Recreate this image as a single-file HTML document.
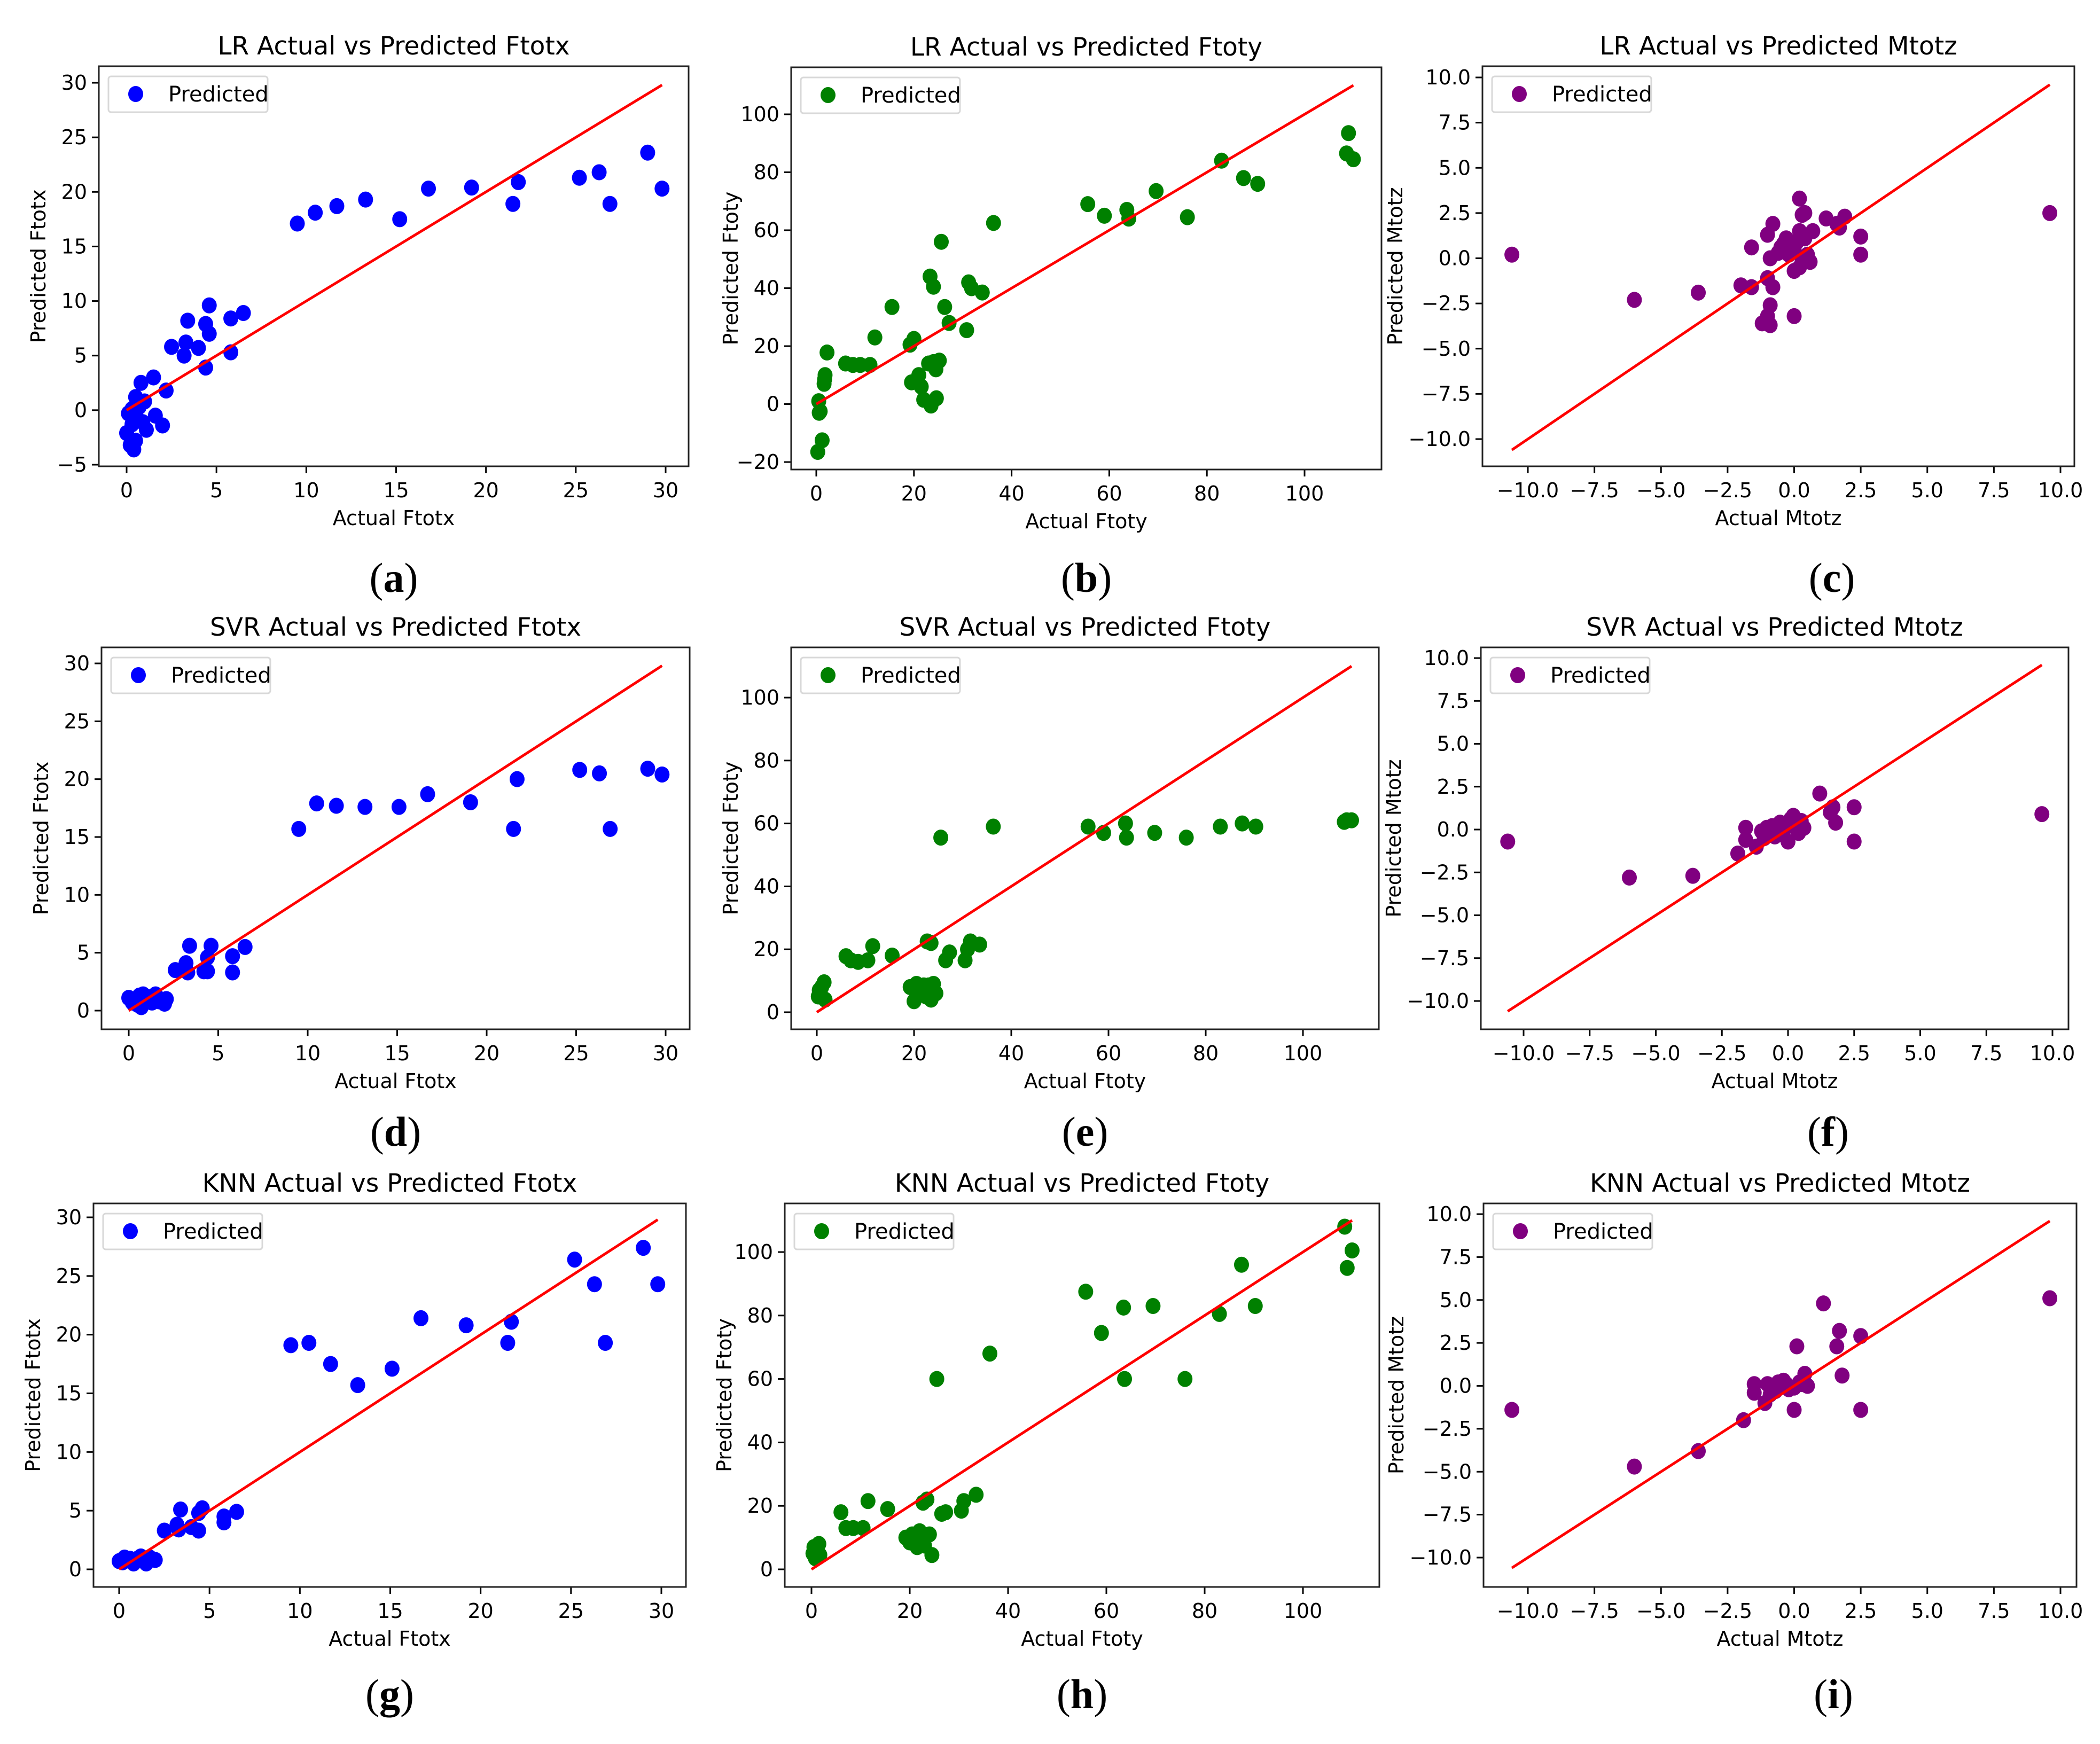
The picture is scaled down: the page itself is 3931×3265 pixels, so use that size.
<!DOCTYPE html>
<html><head><meta charset="utf-8"><style>
html,body{margin:0;padding:0;background:#fff;}
svg{display:block;font-family:"DejaVu Sans","Liberation Sans",sans-serif;}
</style></head><body>
<svg id="fig" width="3931" height="3265" viewBox="0 0 3931 3265" xmlns="http://www.w3.org/2000/svg"></svg>
<script>
// ---- data (actual, predicted) ----
const lrFtotxActual=[9.5,10.5,11.7,13.3,15.2,16.8,19.2,21.5,21.8,25.2,26.3,26.9,29,29.8,4.6,3.4,4.4,5.8,6.5,4.6,2.5,3.3,3.2,4,5.8,4.4,1.5,0.8,2.2,0.5,1,0.3,0.7,1.6,2,1.1,0,0.5,0.2,0.4,0.3,0.6,0.1,0.9];
const lrFtotxPred=[17.1,18.1,18.7,19.3,17.5,20.3,20.4,18.9,20.9,21.3,21.8,18.9,23.6,20.3,9.6,8.2,7.9,8.4,8.9,7.0,5.8,6.2,5.0,5.7,5.3,3.9,3.0,2.5,1.8,1.2,0.8,0.1,0.3,-0.5,-1.4,-1.8,-2.1,-2.8,-3.2,-3.6,-1.3,-0.8,-0.3,-1.1];
const lrFtotyActual=[0.3,1.2,0.6,0.8,0.5,1.6,1.7,1.8,2.2,6,7.5,9,11,12,15.5,19.2,20,19.5,21,21.5,22,23,24,24.5,23.5,24.6,25.2,23.3,24,25.6,26.3,27.2,30.8,31.2,31.8,34,36.3,55.6,59,63.6,64,69.6,76,83,87.5,90.4,108.6,109,110];
const lrFtotyPred=[-16.5,-12.5,-3,-2.5,1,7,8.5,10,17.8,14,13.5,13.5,13.5,23,33.5,20.5,22.5,7.5,10,6,1.5,14,14.5,12,-0.5,2,15,44,40.5,56,33.5,28,25.5,42,40,38.5,62.5,69,65,67,64,73.5,64.5,84,78,76,86.5,93.5,84.5];
const lrMtotzActual=[-10.6,-6,-3.6,9.6,-2,-1.6,-1.6,-1.2,-1,-0.9,-0.9,-1,-0.8,-0.9,-0.6,-0.5,-0.3,-0.8,-1,-0.2,0,0.2,0,0.1,0.2,0.3,0.2,0.4,0.4,0.5,0.6,0.7,1.2,1.6,1.7,1.9,2.5,2.5,-0.4,0,0.3];
const lrMtotzPred=[0.2,-2.3,-1.9,2.5,-1.5,-1.6,0.6,-3.6,-3.2,-3.7,-2.6,-1.1,-1.6,0,0.3,0.6,1.1,1.9,1.3,0.2,-0.7,-0.5,-3.2,0.9,1.5,2.4,3.3,2.5,1.1,0.2,-0.2,1.5,2.2,1.9,1.7,2.3,1.2,0.2,0.8,0.5,-0.1];
const svrFtotxActual=[9.5,10.5,11.6,13.2,15.1,16.7,19.1,21.5,21.7,25.2,26.3,26.9,29,29.8,3.4,4.6,4.4,5.8,6.5,3.2,2.6,3.3,4.2,4.4,5.8,0,0.3,0.6,0.8,1,0.5,0.7,1.5,1.3,2,2.1,1.7,0.2];
const svrFtotxPred=[15.7,17.9,17.7,17.6,17.6,18.7,18,15.7,20,20.8,20.5,15.7,20.9,20.4,5.6,5.6,4.6,4.7,5.5,4.1,3.5,3.3,3.4,3.4,3.3,1.1,0.9,1.3,1.4,1.2,0.5,0.3,1.4,0.7,0.6,1,0.8,0.7];
const svrFtotyActual=[0.3,0.5,0.8,1,1.5,1.7,6,7,8.5,10.5,11.5,15.5,19.2,20,20.5,21.5,22,22.5,23,23.5,24,24.5,22.7,23.5,25.5,26.5,27.3,30.5,31,31.6,33.5,36.3,55.8,59,63.5,63.7,69.5,76,83,87.5,90.3,108.5,109,110];
const svrFtotyPred=[5,7,5.5,8,9.5,4,17.8,16.5,16,16.5,21,18,8,3.5,9,6,8.5,5,8.5,4,9,6,22.5,22,55.5,16.5,19,16.5,20,22.5,21.5,59,59,57,60,55.5,57,55.5,59,60,59,60.5,61,61];
const svrMtotzActual=[-10.6,-6,-3.6,9.6,-1.9,-1.6,-1.6,-1.2,-1,-0.9,-0.6,-0.4,-0.3,-0.2,0,0.1,0.2,0.3,0.4,0.5,0.6,-0.8,1.2,1.6,1.7,1.8,2.5,2.5,-0.5,0];
const svrMtotzPred=[-0.7,-2.8,-2.7,0.9,-1.4,0.1,-0.6,-1,-0.1,-0.5,0.2,0,0.4,-0.3,-0.7,0.6,0.8,0.3,-0.2,0.5,0.1,0.1,2.1,1,1.3,0.4,1.3,-0.7,-0.4,0.2];
const knnFtotxActual=[9.5,10.5,11.7,13.2,15.1,16.7,19.2,21.5,21.7,25.2,26.3,26.9,29,29.8,3.4,4.6,4.4,5.8,6.5,5.8,2.5,3.2,3.3,4,4.4,0,0.3,0.6,1,0.8,1.5,1.5,2,1.7,0.2,1.2];
const knnFtotxPred=[19.1,19.3,17.5,15.7,17.1,21.4,20.8,19.3,21.1,26.4,24.3,19.3,27.4,24.3,5.1,5.2,4.8,4.5,4.9,4.0,3.3,3.8,3.4,3.6,3.3,0.7,1,0.9,0.9,0.5,0.8,0.5,0.8,1,0.6,1.1];
const knnFtotyActual=[0.3,0.5,0.8,1,1.5,1.7,6,7,8.5,10.5,11.5,15.5,19.2,20,20.5,21.5,22,22.5,23,23.5,24,24.5,22.7,25.5,26.5,27.3,30.5,31,33.5,36.3,55.8,59,63.5,63.7,69.5,76,83,87.5,90.3,108.5,109,110];
const knnFtotyPred=[5,7,3.5,6.5,8,4.5,18,13,13,13,21.5,19,10,8.5,11,7,12,9.5,7.5,22,11,4.5,21,60,17.5,18,18.5,21.5,23.5,68,87.5,74.5,82.5,60,83,60,80.5,96,83,108,95,100.5];
const knnMtotzActual=[-10.6,-6,-3.6,9.6,-1.9,-1.5,-1.5,-1.1,-1,-0.9,-0.6,-0.4,-0.3,-0.2,0,0.1,0,0.4,0.5,0.2,1.1,1.6,1.7,1.8,2.5,2.5,-0.7,0.3];
const knnMtotzPred=[-1.4,-4.7,-3.8,5.1,-2,0.1,-0.4,-1,0.1,-0.5,0.2,0.3,0.1,-0.2,-1.4,2.3,-0.1,0.7,0,0.2,4.8,2.3,3.2,0.6,2.9,-1.4,-0.3,0.1];
// ---- ticks ----
const ftotxXTicks=[0,5,10,15,20,25,30];
const lrFtotxYTicks=[-5,0,5,10,15,20,25,30];
const ftotxYTicks=[0,5,10,15,20,25,30];
const ftotyXTicks=[0,20,40,60,80,100];
const lrFtotyYTicks=[-20,0,20,40,60,80,100];
const ftotyYTicks=[0,20,40,60,80,100];
const mtotzTicks=[-10,-7.5,-5,-2.5,0,2.5,5,7.5,10];
const ftotxRange=[0,29.8], ftotyRange=[0,110], mtotzRange=[-10.6,9.6];

const panels=[
 {id:'a',t:'LR Actual vs Predicted Ftotx',xl:'Actual Ftotx',yl:'Predicted Ftotx',c:'#0000ff',box:[185,124,1289,873],xm:[0,237,30,1246],ym:[30,155,-5,870],xt:ftotxXTicks,yt:lrFtotxYTicks,xs:lrFtotxActual,ys:lrFtotxPred,r:ftotxRange,fmt:0},
 {id:'b',t:'LR Actual vs Predicted Ftoty',xl:'Actual Ftoty',yl:'Predicted Ftoty',c:'#008000',box:[1481,126,2586,879],xm:[0,1528,100,2442],ym:[100,214,-20,865],xt:ftotyXTicks,yt:lrFtotyYTicks,xs:lrFtotyActual,ys:lrFtotyPred,r:ftotyRange,fmt:0},
 {id:'c',t:'LR Actual vs Predicted Mtotz',xl:'Actual Mtotz',yl:'Predicted Mtotz',c:'#800080',box:[2775,124,3883,873],xm:[-10,2860,10,3857],ym:[10,145,-10,822],xt:mtotzTicks,yt:mtotzTicks,xs:lrMtotzActual,ys:lrMtotzPred,r:mtotzRange,fmt:1},
 {id:'d',t:'SVR Actual vs Predicted Ftotx',xl:'Actual Ftotx',yl:'Predicted Ftotx',c:'#0000ff',box:[190,1212,1291,1927],xm:[0,241,30,1246],ym:[30,1242,0,1892],xt:ftotxXTicks,yt:ftotxYTicks,xs:svrFtotxActual,ys:svrFtotxPred,r:ftotxRange,fmt:0},
 {id:'e',t:'SVR Actual vs Predicted Ftoty',xl:'Actual Ftoty',yl:'Predicted Ftoty',c:'#008000',box:[1481,1212,2581,1927],xm:[0,1529,100,2439],ym:[100,1306,0,1895],xt:ftotyXTicks,yt:ftotyYTicks,xs:svrFtotyActual,ys:svrFtotyPred,r:ftotyRange,fmt:0},
 {id:'f',t:'SVR Actual vs Predicted Mtotz',xl:'Actual Mtotz',yl:'Predicted Mtotz',c:'#800080',box:[2772,1212,3872,1927],xm:[-10,2852,10,3842],ym:[10,1232,-10,1874],xt:mtotzTicks,yt:mtotzTicks,xs:svrMtotzActual,ys:svrMtotzPred,r:mtotzRange,fmt:1},
 {id:'g',t:'KNN Actual vs Predicted Ftotx',xl:'Actual Ftotx',yl:'Predicted Ftotx',c:'#0000ff',box:[175,2253,1284,2971],xm:[0,223,30,1238],ym:[30,2279,0,2938],xt:ftotxXTicks,yt:ftotxYTicks,xs:knnFtotxActual,ys:knnFtotxPred,r:ftotxRange,fmt:0},
 {id:'h',t:'KNN Actual vs Predicted Ftoty',xl:'Actual Ftoty',yl:'Predicted Ftoty',c:'#008000',box:[1469,2253,2582,2971],xm:[0,1519,100,2439],ym:[100,2344,0,2938],xt:ftotyXTicks,yt:ftotyYTicks,xs:knnFtotyActual,ys:knnFtotyPred,r:ftotyRange,fmt:0},
 {id:'i',t:'KNN Actual vs Predicted Mtotz',xl:'Actual Mtotz',yl:'Predicted Mtotz',c:'#800080',box:[2777,2253,3887,2971],xm:[-10,2860,10,3857],ym:[10,2273,-10,2916],xt:mtotzTicks,yt:mtotzTicks,xs:knnMtotzActual,ys:knnMtotzPred,r:mtotzRange,fmt:1}
];
const labelY={a:1086,b:1086,c:1086,d:2123,e:2123,f:2123,g:3176,h:3176,i:3176};
const NS='http://www.w3.org/2000/svg';
const svg=document.getElementById('fig');
function mk(tag,attrs,parent,text){const e=document.createElementNS(NS,tag);for(const k in attrs)e.setAttribute(k,attrs[k]);if(text!==undefined)e.textContent=text;(parent||svg).appendChild(e);return e;}
function lin(m){return v=>m[1]+(v-m[0])*(m[3]-m[1])/(m[2]-m[0]);}
function fmtv(v,f){const s=f?v.toFixed(1):String(v);return s.replace('-','\u2212');}
panels.forEach(p=>{
  const g=mk('g',{});
  
  
  const X=lin(p.xm),Y=lin(p.ym);const [l,t,r,b]=p.box;
  const ttl=mk('text',{x:(l+r)/2,y:t-22,'text-anchor':'middle','font-size':47,fill:'#000'},g,p.t);
  
  
  p.xt.forEach(v=>{const x=X(v);mk('line',{x1:x,x2:x,y1:b,y2:b+13,stroke:'#000','stroke-width':3},g);
    const tl=mk('text',{x:x,y:b+58,'text-anchor':'middle','font-size':38,fill:'#000'},g,fmtv(v,p.fmt));
    
    });
  p.yt.forEach(v=>{const y=Y(v);mk('line',{x1:l-13,x2:l,y1:y,y2:y,stroke:'#000','stroke-width':3},g);
    const tl=mk('text',{x:l-22,y:y+13,'text-anchor':'end','font-size':38,fill:'#000'},g,fmtv(v,p.fmt));
    
    });
  const xl=mk('text',{x:(l+r)/2,y:b+110,'text-anchor':'middle','font-size':38,fill:'#000'},g,p.xl);
  
  
  const yx=l-(p.fmt?150:100);
  const yl=mk('text',{x:yx,y:(t+b)/2,'text-anchor':'middle','font-size':38,fill:'#000',transform:`rotate(-90 ${yx} ${(t+b)/2})`},g,p.yl);
  
  
  p.xs.forEach((v,i)=>{const c=mk('ellipse',{cx:X(v),cy:Y(p.ys[i]),rx:14,ry:15,fill:p.c},g);
    
    });
  const ln=mk('line',{x1:X(p.r[0]),y1:Y(p.r[0]),x2:X(p.r[1]),y2:Y(p.r[1]),stroke:'#ff0000','stroke-width':5},g);
  
  
  mk('rect',{x:l,y:t,width:r-l,height:b-t,fill:'none',stroke:'#222','stroke-width':3},g);
  const lg=mk('g',{},g);
  
  
  mk('rect',{x:l+18,y:t+19,width:298,height:67,rx:5,fill:'#fff',stroke:'#d8d8d8','stroke-width':3},lg);
  mk('ellipse',{cx:l+69,cy:t+52,rx:14,ry:15,fill:p.c},lg);
  mk('text',{x:l+130,y:t+66,'font-size':40,fill:'#000'},lg,'Predicted');
  const pl=mk('text',{x:(l+r)/2+(p.fmt?100:0),y:labelY[p.id]+22,'text-anchor':'middle','font-size':78,'font-family':'"Liberation Serif",serif',fill:'#000'},g);
  
  
  mk('tspan',{},pl,'(');mk('tspan',{'font-weight':'bold'},pl,p.id);mk('tspan',{},pl,')');
});
</script>
</body></html>
